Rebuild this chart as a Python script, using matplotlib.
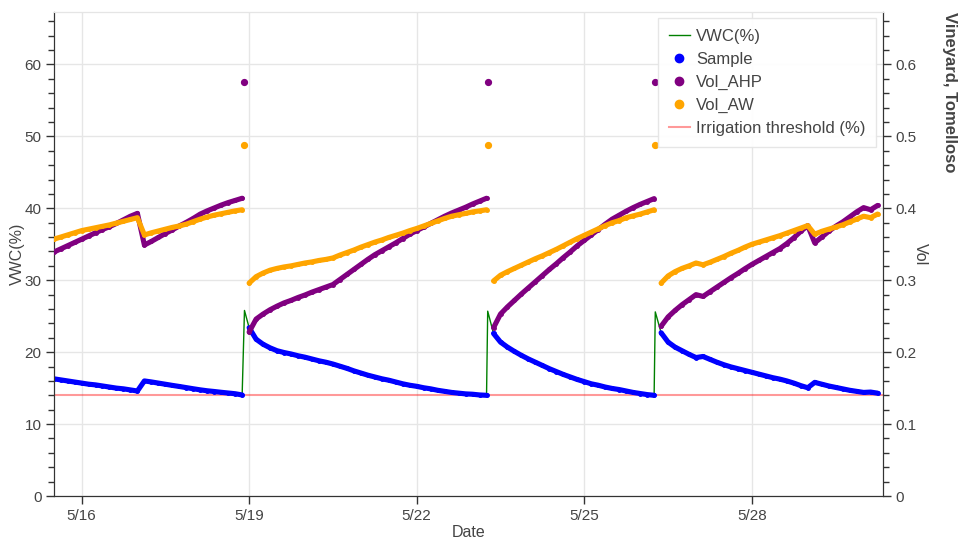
import matplotlib
matplotlib.use('Agg')
import matplotlib.pyplot as plt
import matplotlib.dates as mdates
from matplotlib.lines import Line2D
from matplotlib.ticker import MultipleLocator, FuncFormatter
import numpy as np
import pandas as pd

# 3-hourly readings, 5/15 12:00 -> 5/30 06:00
times = pd.date_range('2024-05-15 12:00', periods=119, freq='3h')

vwc = [
    # until first irrigation
    16.3, 16.15, 16.0, 15.85, 15.7, 15.55, 15.45, 15.3, 15.15, 15.0, 14.9, 14.75, 14.6, 16.0,
    15.86, 15.7, 15.54, 15.38, 15.23, 15.07, 14.91, 14.76, 14.63, 14.53, 14.42, 14.32, 14.22, 14.05,
    # second
    23.4, 21.8, 21.1, 20.6, 20.2, 19.95, 19.75, 19.5, 19.3, 19.05, 18.8, 18.6, 18.35, 18.05, 17.75,
    17.4, 17.1, 16.8, 16.55, 16.3, 16.1, 15.85, 15.6, 15.4, 15.25, 15.05, 14.9, 14.7, 14.55, 14.4,
    14.3, 14.2, 14.15, 14.05, 14.0,
    # third
    22.6, 21.4, 20.7, 20.1, 19.55, 19.05, 18.6, 18.15, 17.7, 17.3, 16.9, 16.55, 16.2, 15.9, 15.6,
    15.4, 15.15, 14.95, 14.8, 14.6, 14.4, 14.25, 14.1, 14.0,
    # fourth
    22.7, 21.4, 20.7, 20.2, 19.7, 19.25, 19.4, 19.0, 18.6, 18.25, 17.95, 17.7, 17.45, 17.2, 16.95,
    16.7, 16.45, 16.25, 16.0, 15.7, 15.35, 15.05, 15.8, 15.55, 15.3, 15.1, 14.9, 14.7, 14.55, 14.4,
    14.45, 14.3,
]

vol_ahp = [
    0.339, 0.3435, 0.348, 0.3525, 0.357, 0.3615, 0.366, 0.3705, 0.3745, 0.379, 0.384, 0.389, 0.393, 0.349,
    0.354, 0.3595, 0.365, 0.370, 0.3755, 0.3805, 0.386, 0.392, 0.3965, 0.4005, 0.4045, 0.408, 0.411, 0.414,
    0.228, 0.246, 0.253, 0.259, 0.264, 0.2685, 0.272, 0.276, 0.2795, 0.2835, 0.287, 0.2905, 0.294, 0.301,
    0.308, 0.315, 0.322, 0.329, 0.3355, 0.341, 0.3465, 0.352, 0.358, 0.364, 0.369, 0.374, 0.379, 0.384,
    0.389, 0.3935, 0.3975, 0.4015, 0.406, 0.410, 0.414,
    0.234, 0.253, 0.263, 0.272, 0.281, 0.2895, 0.298, 0.3065, 0.315, 0.323, 0.3315, 0.3395, 0.348, 0.3555,
    0.363, 0.3705, 0.378, 0.385, 0.3905, 0.396, 0.401, 0.4055, 0.4095, 0.4135,
    0.236, 0.249, 0.258, 0.266, 0.273, 0.280, 0.2775, 0.284, 0.2905, 0.297, 0.3035, 0.3095, 0.316, 0.322,
    0.3275, 0.333, 0.3385, 0.344, 0.351, 0.359, 0.368, 0.376, 0.352, 0.360, 0.368, 0.375, 0.381, 0.388,
    0.395, 0.401, 0.398, 0.404,
]

vol_aw = [
    0.357, 0.360, 0.363, 0.366, 0.369, 0.371, 0.373, 0.375, 0.377, 0.3795, 0.382, 0.3845, 0.387, 0.363,
    0.366, 0.3685, 0.371, 0.3735, 0.3755, 0.378, 0.3815, 0.385, 0.388, 0.3905, 0.3925, 0.3945, 0.3965, 0.398,
    0.296, 0.305, 0.310, 0.314, 0.3165, 0.3185, 0.320, 0.322, 0.324, 0.3255, 0.3275, 0.329, 0.331, 0.335,
    0.3385, 0.342, 0.346, 0.3495, 0.353, 0.356, 0.3595, 0.3625, 0.3655, 0.369, 0.372, 0.3755, 0.379, 0.3825,
    0.386, 0.389, 0.391, 0.393, 0.395, 0.3965, 0.398,
    0.299, 0.307, 0.312, 0.3165, 0.321, 0.3255, 0.330, 0.334, 0.3385, 0.343, 0.348, 0.353, 0.358, 0.3625,
    0.367, 0.3715, 0.376, 0.380, 0.383, 0.387, 0.3895, 0.392, 0.395, 0.398,
    0.296, 0.306, 0.312, 0.3165, 0.320, 0.324, 0.3215, 0.325, 0.329, 0.333, 0.3375, 0.3415, 0.346, 0.350,
    0.353, 0.356, 0.359, 0.362, 0.3655, 0.369, 0.3725, 0.376, 0.364, 0.368, 0.371, 0.374, 0.377, 0.381,
    0.385, 0.389, 0.387, 0.392,
]

# irrigation events (peak readings)
irr_times = pd.to_datetime(['2024-05-18 22:00', '2024-05-23 06:30', '2024-05-26 06:30'])
irr_vwc = [25.8, 25.7, 25.6]
irr_ahp = [0.576, 0.576, 0.576]
irr_aw = [0.488, 0.488, 0.488]

threshold = 14.0

plt.rcParams['font.family'] = ['Liberation Sans', 'DejaVu Sans']
txt = '#444444'
axc = '#333333'

fig = plt.figure(figsize=(9.6, 5.41), dpi=100)
ax1 = fig.add_axes([54 / 960, 1 - 496 / 541, (883 - 54) / 960, (496 - 12) / 541])
ax2 = ax1.twinx()

# green raw line incl. irrigation peaks
s_all = pd.concat([pd.Series(vwc, index=times), pd.Series(irr_vwc, index=irr_times)]).sort_index()
ax1.plot(s_all.index, s_all.values, color='green', lw=1, zorder=2)

bounds = [times[0] - pd.Timedelta('1h')] + list(irr_times) + [times[-1] + pd.Timedelta('1h')]
vwc_a, ahp_a, aw_a = np.array(vwc), np.array(vol_ahp), np.array(vol_aw)
kw = dict(lw=3.7, marker='o', ms=2.5, solid_capstyle='round', solid_joinstyle='round')
for a, b in zip(bounds[:-1], bounds[1:]):
    m = (times > a) & (times < b)
    ax1.plot(times[m], vwc_a[m], color='blue', zorder=3, **kw)
    ax2.plot(times[m], ahp_a[m], color='purple', zorder=3, **kw)
    ax2.plot(times[m], aw_a[m], color='orange', zorder=4, **kw)
ax2.plot(irr_times, irr_ahp, 'o', ms=4.2, color='purple', lw=0)
ax2.plot(irr_times, irr_aw, 'o', ms=4.2, color='orange', lw=0)

ax1.axhline(threshold, color='red', alpha=0.4, lw=1.5, zorder=1)

ax1.set_xlim(pd.Timestamp('2024-05-15 12:10'), pd.Timestamp('2024-05-30 08:20'))
ax1.set_ylim(0, 67.3)
ax2.set_ylim(0, 0.673)

ax1.xaxis.set_major_locator(mdates.DayLocator(bymonthday=[16, 19, 22, 25, 28]))
ax1.xaxis.set_major_formatter(FuncFormatter(lambda v, p: '{}/{}'.format(mdates.num2date(v).month, mdates.num2date(v).day)))
ax1.yaxis.set_major_locator(MultipleLocator(10))
ax1.yaxis.set_minor_locator(MultipleLocator(2))
ax2.yaxis.set_major_locator(MultipleLocator(0.1))
ax2.yaxis.set_minor_locator(MultipleLocator(0.02))
ax2.yaxis.set_major_formatter(FuncFormatter(lambda v, p: '0' if v == 0 else '{:.1f}'.format(v)))

ax1.grid(True, color='#e6e6e6', lw=1)
ax1.set_axisbelow(True)

for ax in (ax1, ax2):
    ax.tick_params(which='major', length=6, width=1, color=axc, labelcolor=txt, labelsize=11, pad=3)
    ax.tick_params(which='minor', length=4, width=1, color=axc)
    for sp in ('left', 'right', 'bottom'):
        ax.spines[sp].set_color(axc)
    ax.spines['top'].set_color('#e5e5e5')

ax1.set_xlabel('Date', color=txt, fontsize=11.5, labelpad=2)
ax1.set_ylabel('VWC(%)', color=txt, fontsize=11.5, labelpad=0)
ax2.set_ylabel('Vol', color=txt, fontsize=11.5, rotation=270, labelpad=8)

fig.text(0.9895, 0.978, 'Vineyard, Tomelloso', rotation=270, ha='center', va='top',
         fontsize=12, fontweight='bold', color=txt)

handles = [
    Line2D([], [], color='green', lw=1),
    Line2D([], [], color='blue', marker='o', ms=6, lw=0),
    Line2D([], [], color='purple', marker='o', ms=6, lw=0),
    Line2D([], [], color='orange', marker='o', ms=6, lw=0),
    Line2D([], [], color='red', alpha=0.4, lw=1.5),
]
labels = ['VWC(%)', 'Sample', 'Vol_AHP', 'Vol_AW', 'Irrigation threshold (%)']
leg = ax2.legend(handles, labels, loc='upper right', bbox_to_anchor=(0.992, 0.988), borderaxespad=0,
                 fontsize=12, frameon=True, fancybox=False, edgecolor='#e5e5e5', framealpha=0.95,
                 labelspacing=0.48, handlelength=1.3, handletextpad=0.35, borderpad=0.65)
for t in leg.get_texts():
    t.set_color(txt)

fig.savefig('out.png', dpi=100)
